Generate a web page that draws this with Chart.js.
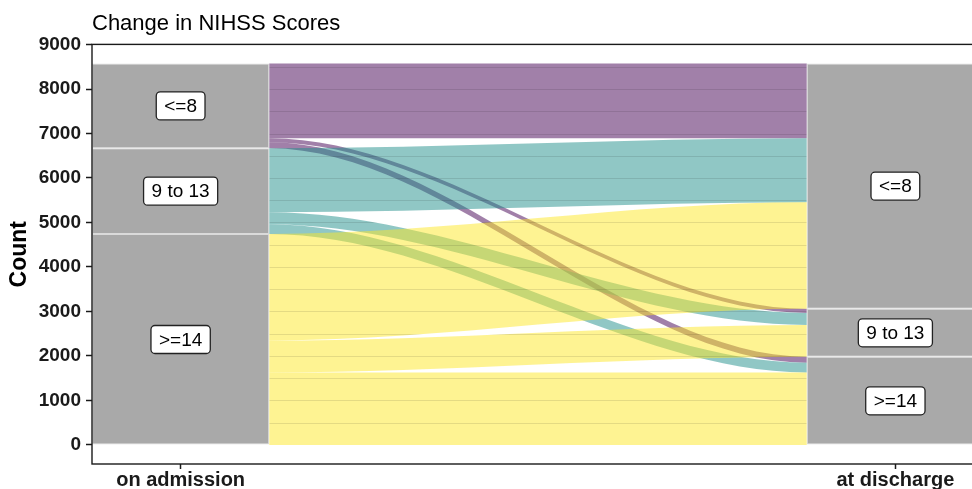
<!DOCTYPE html>
<html>
<head>
<meta charset="utf-8">
<script src="https://cdn.jsdelivr.net/npm/chart.js@4.4.1/dist/chart.umd.min.js"></script>
<style>
html,body{margin:0;padding:0;background:#fff;overflow:hidden;}
#wrap{width:990px;height:489px;}
</style>
</head>
<body>
<div id="wrap"><canvas id="c" width="990" height="489"></canvas></div>
<script>
// ---- data ----
const levels = ["<=8", "9 to 13", ">=14"];              // strata, top to bottom
const xLabels = ["on admission", "at discharge"];
const xPositions = [0, 1];
const flowFrom  = ["<=8", "<=8", "<=8", "9 to 13", "9 to 13", "9 to 13", ">=14", ">=14", ">=14"];
const flowTo    = ["<=8", "9 to 13", ">=14", "<=8", "9 to 13", ">=14", "<=8", "9 to 13", ">=14"];
const flowCount = [1682, 90, 134, 1440, 270, 218, 2394, 716, 1630];
const yTicks = [0, 1000, 2000, 3000, 4000, 5000, 6000, 7000, 8000, 9000];
const levelColors = ["rgba(68,1,84,0.5)", "rgba(33,144,140,0.5)", "rgba(253,231,37,0.5)"];

// ---- styling constants ----
const FONT = "'Liberation Sans', Arial, Helvetica, sans-serif";
const stratumWidth = 0.248;
const curveKnot = 0.33;

// ---- derived ----
function totalsBy(key) {
  return levels.map(l => flowCount.reduce((s, n, i) => s + (key[i] === l ? n : 0), 0));
}
function stackBounds(totals) {
  const out = new Array(levels.length);
  let acc = 0;
  for (let i = levels.length - 1; i >= 0; i--) { out[i] = [acc, acc + totals[i]]; acc += totals[i]; }
  return out;
}
const leftBounds = stackBounds(totalsBy(flowFrom));
const rightBounds = stackBounds(totalsBy(flowTo));
const lodes = flowCount.map(() => ({}));
levels.forEach((lv, li) => {
  let top = leftBounds[li][1];
  levels.forEach(dest => flowCount.forEach((n, i) => {
    if (flowFrom[i] === lv && flowTo[i] === dest) { lodes[i].l = [top - n, top]; top -= n; }
  }));
  let topR = rightBounds[li][1];
  levels.forEach(orig => flowCount.forEach((n, i) => {
    if (flowTo[i] === lv && flowFrom[i] === orig) { lodes[i].r = [topR - n, topR]; topR -= n; }
  }));
});
const gridValues = [];
yTicks.forEach((v, i) => { gridValues.push(v); if (i < yTicks.length - 1) gridValues.push((v + yTicks[i + 1]) / 2); });

const datasets = levels.map((lv, li) => ({
  label: lv,
  data: [
    { x: xPositions[0], y: leftBounds[li] },
    { x: xPositions[1], y: rightBounds[li] }
  ],
  backgroundColor: '#A9A9A9',
  borderColor: '#DADADA',
  borderWidth: 1,
  borderSkipped: false,
  grouped: false,
  barPercentage: stratumWidth / (xPositions[1] - xPositions[0]),
  categoryPercentage: 1
}));

// ---- plugins ----
const alluvia = {
  id: 'alluvia',
  beforeDatasetsDraw(chart) {
    const { ctx, scales: { x, y } } = chart;
    const xa = x.getPixelForValue(xPositions[0] + stratumWidth / 2);
    const xb = x.getPixelForValue(xPositions[1] - stratumWidth / 2);
    const c1 = xa + (xb - xa) * curveKnot, c2 = xb - (xb - xa) * curveKnot;
    const pathFor = (i) => {
      const [l0, l1] = lodes[i].l, [r0, r1] = lodes[i].r;
      const yl1 = y.getPixelForValue(l1), yr1 = y.getPixelForValue(r1);
      const yl0 = y.getPixelForValue(l0), yr0 = y.getPixelForValue(r0);
      ctx.moveTo(xa, yl1);
      ctx.bezierCurveTo(c1, yl1, c2, yr1, xb, yr1);
      ctx.lineTo(xb, yr0);
      ctx.bezierCurveTo(c2, yr0, c1, yl0, xa, yl0);
      ctx.closePath();
    };
    ctx.save();
    levels.forEach((lv, li) => flowCount.forEach((n, i) => {
      if (flowFrom[i] === lv) {
        ctx.beginPath(); pathFor(i);
        ctx.fillStyle = levelColors[li]; ctx.fill();
      }
    }));
    ctx.beginPath();
    flowCount.forEach((n, i) => pathFor(i));
    ctx.clip();
    ctx.strokeStyle = 'rgba(0,0,0,0.1)';
    ctx.lineWidth = 1;
    gridValues.forEach(v => {
      const py = Math.round(y.getPixelForValue(v)) + 0.5;
      ctx.beginPath(); ctx.moveTo(xa, py); ctx.lineTo(xb, py); ctx.stroke();
    });
    ctx.restore();
  },
  afterDatasetsDraw(chart) {
    const { ctx, scales: { x, y } } = chart;
    ctx.save();
    ctx.font = "19px " + FONT;
    ctx.textAlign = 'center';
    ctx.textBaseline = 'middle';
    [leftBounds, rightBounds].forEach((bds, xi) => {
      bds.forEach((b, li) => {
        const cx = x.getPixelForValue(xPositions[xi]);
        const cy = y.getPixelForValue((b[0] + b[1]) / 2);
        const tw = ctx.measureText(levels[li]).width;
        const w = tw + 16, h = 28;
        ctx.beginPath();
        ctx.roundRect(cx - w / 2, cy - h / 2, w, h, 4);
        ctx.fillStyle = '#fff'; ctx.fill();
        ctx.lineWidth = 1.3; ctx.strokeStyle = '#222'; ctx.stroke();
        ctx.fillStyle = '#000';
        ctx.fillText(levels[li], cx, cy + 1);
      });
    });
    ctx.restore();
  },
  afterDraw(chart) {
    const { ctx, chartArea: a } = chart;
    ctx.save();
    ctx.strokeStyle = '#1a1a1a';
    ctx.lineWidth = 1.4;
    ctx.strokeRect(a.left, a.top, a.right - a.left, a.bottom - a.top);
    ctx.restore();
  }
};

new Chart(document.getElementById('c'), {
  type: 'bar',
  data: { datasets },
  plugins: [alluvia],
  options: {
    responsive: false,
    animation: false,
    devicePixelRatio: 1,
    layout: { padding: { left: 0, right: 6, top: 0, bottom: 0 } },
    plugins: {
      legend: { display: false },
      tooltip: { enabled: false },
      title: {
        display: true,
        text: 'Change in NIHSS Scores',
        align: 'start',
        fullSize: false,
        color: '#000',
        font: { family: FONT, size: 22, weight: 'normal', lineHeight: 1.2 },
        padding: { top: 11, bottom: 7 }
      }
    },
    scales: {
      x: {
        type: 'linear',
        offset: false,
        min: xPositions[0] - stratumWidth / 2,
        max: xPositions[1] + stratumWidth / 2,
        afterBuildTicks: s => { s.ticks = xPositions.map(v => ({ value: v })); },
        afterFit: s => { s.height = 25; },
        grid: { offset: false, drawOnChartArea: false, drawTicks: true, tickLength: 5, tickColor: '#1a1a1a', tickWidth: 1.5 },
        border: { display: false },
        ticks: {
          padding: 1,
          color: '#1a1a1a',
          font: { family: FONT, size: 20, weight: 'bold', lineHeight: 1 },
          maxRotation: 0,
          autoSkip: false,
          callback: v => xLabels[xPositions.indexOf(v)] ?? ''
        }
      },
      y: {
        type: 'linear',
        min: -429,
        max: 9003,
        afterBuildTicks: s => { s.ticks = yTicks.map(v => ({ value: v })); },
        afterFit: s => { s.width = 92; },
        grid: { drawOnChartArea: false, drawTicks: true, tickLength: 6, tickColor: '#1a1a1a', tickWidth: 1.5 },
        border: { display: false },
        ticks: {
          padding: 5,
          color: '#1a1a1a',
          font: { family: FONT, size: 19, weight: 'bold' },
          callback: v => String(v)
        },
        title: {
          display: true,
          text: 'Count',
          color: '#000',
          font: { family: FONT, size: 23, weight: 'bold', lineHeight: 1.2 },
          padding: { top: 6, bottom: 0 }
        }
      }
    }
  }
});
</script>
</body>
</html>
